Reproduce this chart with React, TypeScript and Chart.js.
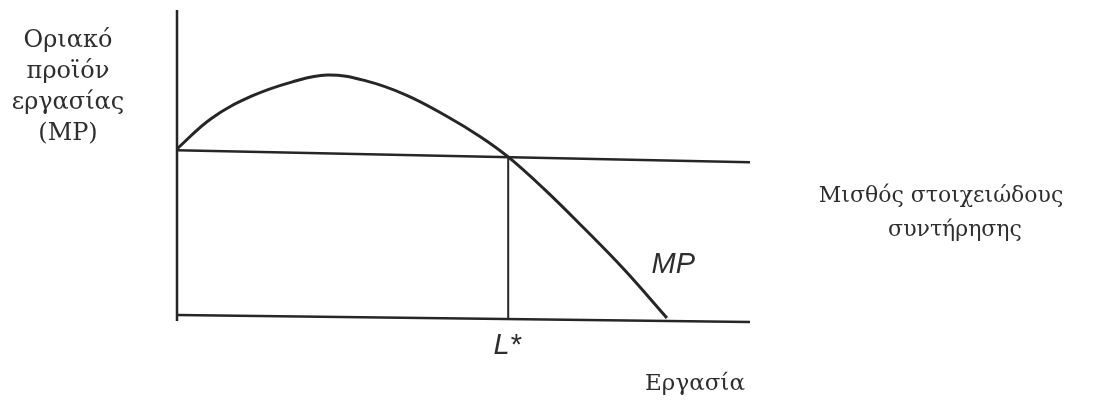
import React, { useEffect, useRef } from "react";
import { Chart, registerables } from "chart.js";

Chart.register(...registerables);

// Labour input (x) and marginal product of labour (y), in axis units 0–100
const laborUnits = [0, 6, 13, 20, 26.2, 33, 40, 47, 53, 57.8, 64, 71, 78, 85.5];
const marginalProduct = [54.9, 64.8, 72.0, 76.6, 78.9, 77.0, 72.4, 65.6, 58.8, 52.3, 42.0, 29.2, 15.8, 0];

// Subsistence wage line across the full labour range
const wageLabor = [0, 100];
const subsistenceWage = [54.5, 50.6];

// Equilibrium employment where MP meets the subsistence wage
const lStar = 57.8;
const lStarWage = 52.3;

// Axis frame
const xAxisLabor = [0, 100];
const xAxisLevel = [1, -1.3];
const yAxisLabor = [0, 0];
const yAxisLevel = [-1, 100];

const yTitleLines = ["Οριακό", "προϊόν", "εργασίας", "(MP)"];
const wageTitleLines = ["Μισθός στοιχειώδους", "συντήρησης"];
const xTitle = "Εργασία";
const curveLabel = "MP";
const lStarLabel = "L*";

const INK = "#262626";
const TEXT = "#2e2e2e";

const toPoints = (xs: number[], ys: number[]) => xs.map((x, i) => ({ x, y: ys[i] }));

const labelsPlugin = {
  id: "diagramLabels",
  afterDraw(chart: any) {
    const { ctx, chartArea, scales } = chart;
    const xs = scales.x;
    const ys = scales.y;
    ctx.save();
    ctx.fillStyle = TEXT;
    ctx.textBaseline = "alphabetic";
    ctx.textAlign = "center";

    // Vertical axis title, left of the frame
    ctx.font = '24px "DejaVu Serif"';
    yTitleLines.forEach((line, i) => {
      ctx.fillText(line, chartArea.left - 109, 47 + i * 31);
    });

    // Wage line label, right of the frame
    ctx.font = '22px "DejaVu Serif"';
    ctx.fillText(wageTitleLines[0], chartArea.right + 191, 202);
    ctx.fillText(wageTitleLines[1], chartArea.right + 205, 236);

    // Horizontal axis title
    ctx.font = '23px "DejaVu Serif"';
    ctx.fillText(xTitle, chartArea.right - 55, 390);

    // Curve and equilibrium labels
    ctx.font = 'italic 29px "Liberation Sans"';
    ctx.fillText(curveLabel, xs.getPixelForValue(86.6), ys.getPixelForValue(14.6));
    ctx.fillText(lStarLabel, xs.getPixelForValue(lStar) - 1, 354);

    ctx.restore();
  },
};

export default function App() {
  const canvasRef = useRef<HTMLCanvasElement | null>(null);

  useEffect(() => {
    const canvas = canvasRef.current;
    if (!canvas) return;
    const lineStyle = {
      borderColor: INK,
      borderWidth: 2.5,
      pointRadius: 0,
      fill: false,
      clip: false as any,
    };
    const chart = new Chart(canvas, {
      type: "line",
      data: {
        datasets: [
          { ...lineStyle, label: "y-axis", data: toPoints(yAxisLabor, yAxisLevel) },
          { ...lineStyle, label: "x-axis", data: toPoints(xAxisLabor, xAxisLevel) },
          { ...lineStyle, label: "wage", data: toPoints(wageLabor, subsistenceWage) },
          {
            ...lineStyle,
            label: "L*",
            borderWidth: 2,
            data: toPoints([lStar, lStar], [0, lStarWage]),
          },
          {
            ...lineStyle,
            label: "MP",
            borderWidth: 3,
            tension: 0.4,
            data: toPoints(laborUnits, marginalProduct),
          },
        ],
      },
      options: {
        responsive: false,
        animation: false,
        layout: { padding: { left: 177, right: 349, top: 10, bottom: 85 } },
        plugins: { legend: { display: false }, tooltip: { enabled: false } },
        scales: {
          x: { type: "linear", min: 0, max: 100, display: false },
          y: { type: "linear", min: 0, max: 100, display: false },
        },
      },
      plugins: [labelsPlugin],
    });
    return () => chart.destroy();
  }, []);

  return (
    <div style={{ position: "fixed", left: 0, top: 0, width: 1099, height: 403, background: "#fff" }}>
      <canvas ref={canvasRef} width={1099} height={403} />
    </div>
  );
}
